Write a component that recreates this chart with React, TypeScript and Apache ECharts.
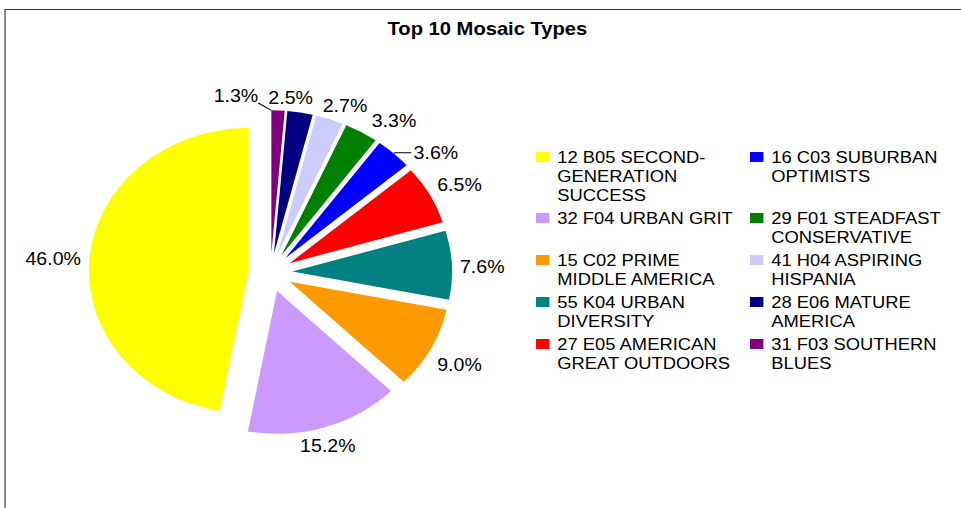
import React, { useEffect, useRef } from 'react';
import * as echarts from 'echarts';

// ---- data (pie order: largest first, drawn counter-clockwise from 12 o'clock) ----
const categories = [
  '12 B05 SECOND-GENERATION SUCCESS',
  '32 F04 URBAN GRIT',
  '15 C02 PRIME MIDDLE AMERICA',
  '55 K04 URBAN DIVERSITY',
  '27 E05 AMERICAN GREAT OUTDOORS',
  '16 C03 SUBURBAN OPTIMISTS',
  '29 F01 STEADFAST CONSERVATIVE',
  '41 H04 ASPIRING HISPANIA',
  '28 E06 MATURE AMERICA',
  '31 F03 SOUTHERN BLUES',
];
const shares = [46.0, 15.2, 9.0, 7.6, 6.5, 3.6, 3.3, 2.7, 2.5, 1.3];
const legendLines = [
  ['12 B05 SECOND-', 'GENERATION', 'SUCCESS'],
  ['32 F04 URBAN GRIT'],
  ['15 C02 PRIME', 'MIDDLE AMERICA'],
  ['55 K04 URBAN', 'DIVERSITY'],
  ['27 E05 AMERICAN', 'GREAT OUTDOORS'],
  ['16 C03 SUBURBAN', 'OPTIMISTS'],
  ['29 F01 STEADFAST', 'CONSERVATIVE'],
  ['41 H04 ASPIRING', 'HISPANIA'],
  ['28 E06 MATURE', 'AMERICA'],
  ['31 F03 SOUTHERN', 'BLUES'],
];
const titleText = 'Top 10 Mosaic Types';

// ---- styling ----
const colors = ['#FFFF00', '#CC99FF', '#FF9900', '#008080', '#FF0000', '#0000FF', '#008000', '#CCCCFF', '#000080', '#800080'];
const labelLen = [-17.9, 19.5, 34.4, -50.6, 20.9, 1, 12.6, 14.1, 15.2, 14.7];
const labelLen2 = [20.5, -33.2, -29.9, 52.7, -16.8, 15, -2.1, -15.7, -35.9, -18.3];
const labelGap = [5, 5, 5, 5, 5, 2, 5, 5, 5, 0];
const showLine = [false, false, false, false, false, true, false, false, false, true];
const LEFT_LABEL_INDEX = 9;

const FONT = "'Liberation Sans', Arial, Helvetica, sans-serif";
const STRETCH = 1.12;
const W = 858;
const H = 508;
const LH = 19;
const ROWS = 5;

export default function App() {
  const ref = useRef<HTMLDivElement>(null);

  useEffect(() => {
    if (!ref.current) return;
    const chart = echarts.init(ref.current, null, { renderer: 'svg' });

    // each legend row is as tall as its tallest entry; the icon sits on the first line
    const rowLines = Array.from({ length: ROWS }, (_, r) =>
      Math.max(legendLines[r].length, legendLines[r + ROWS].length)
    );
    const paddedText = legendLines.map((lines, i) => {
      const n = rowLines[i % ROWS];
      const out: string[] = [];
      for (let k = 0; k < n - 1; k++) out.push(' ');
      lines.forEach((l) => out.push(l));
      while (out.length < 2 * n - 1) out.push(' ');
      return out.join('\n');
    });
    const legendItem = (i: number) => ({ name: categories[i] });
    const legendBase = {
      orient: 'vertical',
      top: 109.5,
      padding: 0,
      itemGap: -15,
      itemWidth: 12,
      itemHeight: 10,
      icon: 'rect',
      selectedMode: false,
      formatter: (name: string) => paddedText[categories.indexOf(name)],
      textStyle: { fontSize: 16.4, lineHeight: LH, fontFamily: FONT, color: '#000', padding: [0, 0, 0, 2] },
    };

    const option: any = {
      animation: false,
      backgroundColor: '#fff',
      title: {
        text: titleText,
        left: 346,
        top: 20,
        padding: 0,
        textStyle: { fontSize: 18, fontWeight: 'bold', fontFamily: FONT, color: '#000' },
      },
      legend: [
        { ...legendBase, left: 478.6, data: [0, 1, 2, 3, 4].map(legendItem) },
        { ...legendBase, left: 669.6, data: [5, 6, 7, 8, 9].map(legendItem) },
      ],
      graphic: [
        {
          type: 'rect',
          silent: true,
          shape: { x: 4.5, y: 9.5, width: 1200, height: 1200 },
          style: { fill: 'none', stroke: '#333', lineWidth: 1 },
        },
      ],
      series: [
        {
          type: 'pie',
          center: [241.5, 272.5],
          radius: 142.7,
          startAngle: 90,
          clockwise: false,
          selectedMode: 'multiple',
          selectedOffset: 19.5,
          avoidLabelOverlap: false,
          itemStyle: { borderWidth: 0 },
          select: { itemStyle: { borderWidth: 0 } },
          emphasis: { disabled: true },
          label: {
            position: 'outside',
            fontSize: 17.5,
            fontFamily: FONT,
            color: '#000',
            formatter: (p: any) => p.value.toFixed(1) + '%',
          },
          labelLine: { lineStyle: { color: '#000', width: 1 } },
          labelLayout: (p: any) =>
            p.dataIndex === LEFT_LABEL_INDEX
              ? {
                  align: 'right',
                  labelLinePoints: [
                    [p.labelRect.x, p.labelRect.y + p.labelRect.height * 0.9],
                    [p.rect.x, p.rect.y],
                  ],
                }
              : undefined,
          data: categories.map((name, i) => ({
            name,
            value: shares[i],
            selected: true,
            itemStyle: { color: colors[i] },
            label: { distanceToLabelLine: labelGap[i] },
            labelLine: { show: showLine[i], length: labelLen[i], length2: labelLen2[i] },
          })),
        },
      ],
    };

    chart.setOption(option);
    return () => chart.dispose();
  }, []);

  return (
    <div
      ref={ref}
      style={{
        position: 'absolute',
        left: 0,
        top: 0,
        width: W,
        height: H,
        transform: `scaleX(${STRETCH})`,
        transformOrigin: '0 0',
      }}
    />
  );
}
